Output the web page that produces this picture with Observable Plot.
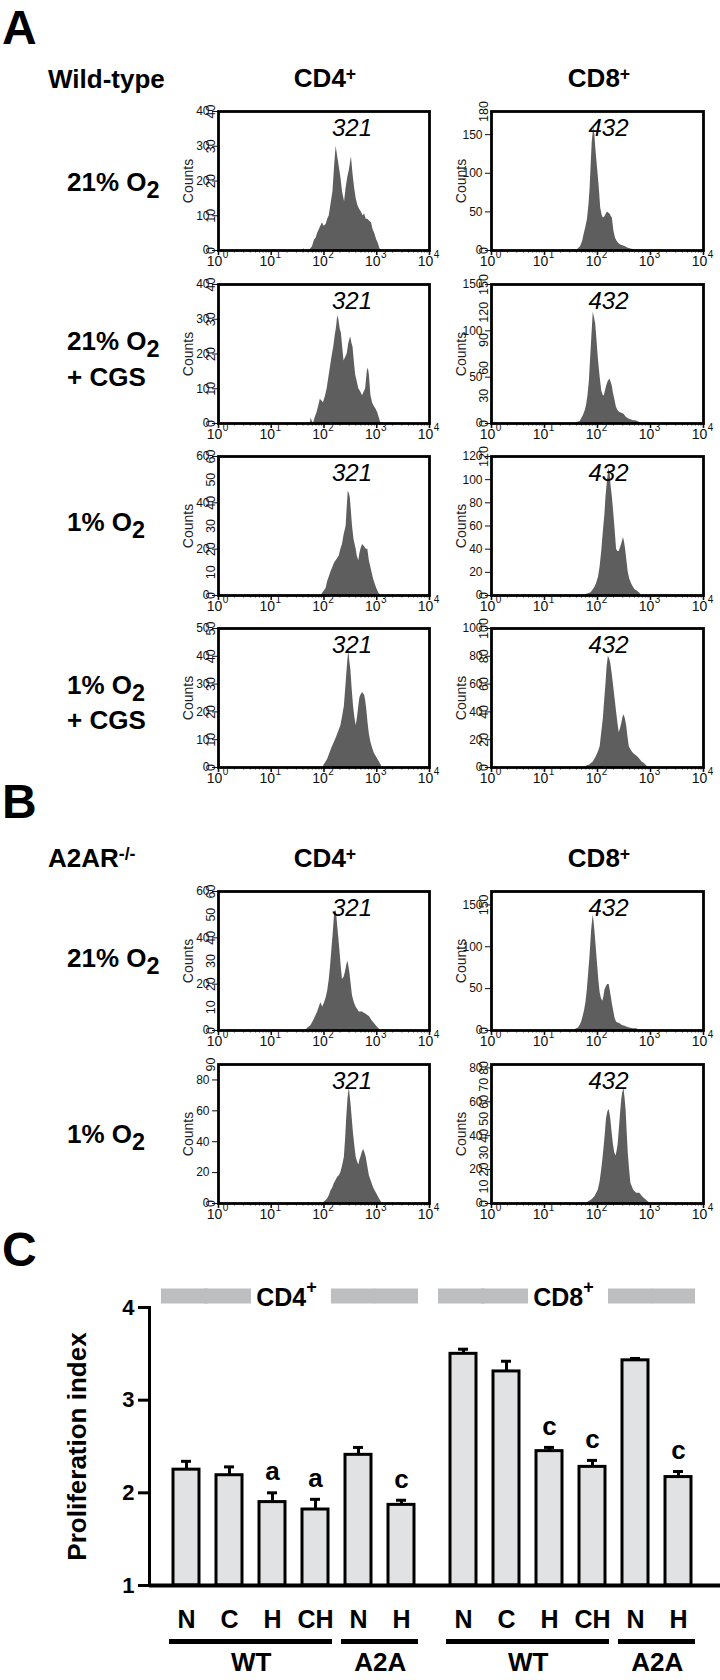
<!DOCTYPE html>
<html><head><meta charset="utf-8">
<script src="https://cdn.jsdelivr.net/npm/d3@7"></script>
<script src="https://cdn.jsdelivr.net/npm/@observablehq/plot@0.6"></script>
<style>
body{margin:0;background:#fff;}
#page{position:relative;width:720px;height:1680px;overflow:hidden;background:#fff;font-family:"Liberation Sans",Arial,Helvetica,sans-serif;color:#000;}
.lbl{position:absolute;line-height:1;white-space:nowrap;font-weight:bold;}
.sub{position:relative;top:0.28em;font-size:0.9em;}
.sup{position:relative;top:-0.42em;font-size:0.68em;}
.pl{position:absolute;}
</style></head><body><div id="page"></div>
<script>
// ---------- Histogram data: [log10(fluorescence), counts] ----------
const wt21_cd4 = [[1.60,0],[1.62,0.5],[1.64,0],[1.72,0],[1.78,1],[1.82,3],[1.85,3.5],[1.88,5],[1.91,6],[1.94,7],[1.97,8],[2.0,7],[2.04,7.5],[2.07,9],[2.10,10],[2.13,13],[2.17,17],[2.20,24],[2.23,30],[2.25,28],[2.26,27],[2.29,24],[2.32,21],[2.35,17],[2.39,14],[2.42,18],[2.45,21],[2.48,23],[2.52,27],[2.55,22],[2.58,18],[2.61,15],[2.64,13],[2.67,12],[2.71,11],[2.74,10],[2.77,10.5],[2.80,9],[2.83,9],[2.86,8.5],[2.90,8],[2.93,6],[2.96,5],[3.00,3],[3.03,2],[3.06,0.5],[3.09,0]];
const wt21_cd8 = [[1.58,0],[1.62,1],[1.68,5],[1.72,12],[1.745,20],[1.78,30],[1.81,40],[1.84,60],[1.86,80],[1.88,110],[1.90,140],[1.93,160],[1.95,150],[1.965,135],[1.99,115],[2.01,100],[2.04,75],[2.06,55],[2.09,45],[2.11,42],[2.13,43],[2.15,45],[2.17,48],[2.19,50],[2.22,48],[2.24,47],[2.26,44],[2.28,42],[2.31,25],[2.34,16],[2.37,12],[2.40,9],[2.44,7],[2.48,6],[2.53,5],[2.58,3],[2.63,2],[2.69,1],[2.75,0]];
const wt21cgs_cd4 = [[1.74,0],[1.757,1.5],[1.78,0.5],[1.80,0],[1.84,2],[1.866,3],[1.90,5],[1.93,7],[1.96,6.5],[1.99,6],[2.03,8],[2.06,10],[2.09,13],[2.12,16],[2.15,19],[2.185,22],[2.21,25],[2.24,28],[2.26,31],[2.28,30],[2.31,27],[2.33,26],[2.36,21],[2.38,18],[2.41,19],[2.44,20],[2.47,23],[2.505,25],[2.53,23],[2.55,22],[2.58,17],[2.60,14],[2.63,12],[2.66,10],[2.70,9],[2.73,8],[2.76,9],[2.79,10],[2.82,15],[2.84,16],[2.86,14],[2.89,8],[2.92,6],[2.95,5],[2.99,4],[3.02,3],[3.05,1.5],[3.08,0]];
const wt21cgs_cd8 = [[1.58,0],[1.606,1],[1.67,2],[1.73,8],[1.77,14],[1.795,20],[1.82,30],[1.846,45],[1.87,70],[1.89,90],[1.92,120],[1.94,115],[1.965,108],[1.99,90],[2.016,70],[2.05,50],[2.08,35],[2.11,30],[2.13,30],[2.15,35],[2.17,40],[2.20,45],[2.236,48],[2.26,44],[2.28,40],[2.30,33],[2.33,25],[2.355,18],[2.375,15],[2.40,13],[2.425,12],[2.46,11],[2.50,10],[2.54,7],[2.58,5],[2.63,4],[2.68,3],[2.72,3],[2.77,2],[2.80,1],[2.83,0]];
const wt1_cd4 = [[1.95,0],[1.975,1],[2.01,2],[2.04,3],[2.07,6],[2.10,8],[2.13,10],[2.165,12],[2.20,14],[2.23,15],[2.26,16],[2.29,17],[2.32,20],[2.35,22],[2.38,26],[2.42,30],[2.44,38],[2.46,45],[2.48,44],[2.50,42],[2.52,36],[2.54,30],[2.57,24],[2.61,20],[2.63,17],[2.66,15],[2.68,18],[2.70,20],[2.73,22],[2.77,21],[2.80,20],[2.83,20],[2.86,15],[2.89,12],[2.91,10],[2.94,7],[2.97,5],[3.00,3],[3.04,1],[3.08,0]];
const wt1_cd8 = [[1.78,0],[1.795,1],[1.83,1.5],[1.86,2],[1.89,3],[1.92,5],[1.95,7],[1.98,10],[2.02,16],[2.05,25],[2.08,38],[2.11,55],[2.14,70],[2.16,85],[2.19,100],[2.22,110],[2.24,104],[2.255,95],[2.28,85],[2.30,75],[2.33,58],[2.36,40],[2.385,38],[2.41,38],[2.44,42],[2.46,45],[2.49,50],[2.51,46],[2.53,40],[2.555,30],[2.58,20],[2.61,14],[2.645,10],[2.68,7],[2.71,5],[2.74,4],[2.77,3],[2.80,2],[2.83,0]];
const wt1cgs_cd4 = [[1.98,0],[2.006,1],[2.04,2],[2.07,3],[2.10,4.5],[2.13,6],[2.16,7.5],[2.196,9],[2.23,10.5],[2.26,12],[2.29,13.5],[2.32,15],[2.35,18],[2.386,22],[2.41,28],[2.43,33],[2.45,38],[2.47,42],[2.49,38],[2.51,35],[2.535,28],[2.56,22],[2.585,18],[2.61,15],[2.635,18],[2.66,22],[2.68,25],[2.70,26],[2.73,27],[2.77,26],[2.79,24],[2.81,21],[2.835,16],[2.86,12],[2.89,9],[2.92,7],[2.955,5],[2.99,4],[3.02,3],[3.05,2],[3.08,1],[3.10,0]];
const wt1cgs_cd8 = [[1.78,0],[1.795,1],[1.83,1.5],[1.86,2],[1.89,3],[1.92,4],[1.95,6],[1.98,8],[2.015,11],[2.05,15],[2.08,25],[2.11,35],[2.135,48],[2.16,60],[2.18,72],[2.205,80],[2.23,78],[2.25,75],[2.275,68],[2.30,60],[2.33,50],[2.36,40],[2.385,32],[2.41,25],[2.435,28],[2.46,32],[2.48,36],[2.50,38],[2.525,35],[2.55,30],[2.575,22],[2.60,15],[2.64,12],[2.68,10],[2.715,9],[2.75,8],[2.775,7],[2.80,6],[2.84,4],[2.88,3],[2.92,1.5],[2.96,0]];
const ko21_cd4 = [[1.66,0],[1.69,1],[1.72,1.5],[1.75,2],[1.785,3.5],[1.82,5],[1.85,6.5],[1.88,8],[1.91,10],[1.94,12],[1.96,11],[1.975,10],[2.01,12],[2.04,14],[2.07,17],[2.10,22],[2.125,28],[2.15,35],[2.175,42],[2.20,50],[2.23,52],[2.245,49],[2.26,45],[2.28,40],[2.30,35],[2.325,28],[2.35,22],[2.38,23],[2.405,25],[2.43,28],[2.45,30],[2.47,28],[2.49,25],[2.515,20],[2.54,15],[2.575,12],[2.61,10],[2.64,9],[2.67,8],[2.70,8],[2.73,8],[2.765,7.5],[2.80,7],[2.83,6.5],[2.86,6],[2.89,5],[2.92,4],[2.955,3],[2.99,2],[3.03,1],[3.08,0]];
const ko21_cd8 = [[1.55,0],[1.575,1],[1.61,2],[1.64,3],[1.67,6],[1.70,10],[1.73,17],[1.76,25],[1.785,35],[1.81,50],[1.835,70],[1.86,90],[1.875,105],[1.89,120],[1.905,130],[1.92,138],[1.935,130],[1.95,120],[1.975,100],[2.00,80],[2.025,60],[2.05,45],[2.075,38],[2.10,35],[2.12,40],[2.14,48],[2.165,52],[2.19,55],[2.22,55],[2.24,48],[2.26,40],[2.28,32],[2.30,25],[2.33,15],[2.36,10],[2.39,9],[2.425,8],[2.47,6],[2.52,5],[2.565,4],[2.61,3],[2.675,2],[2.74,2],[2.77,1],[2.80,0]];
const ko1_cd4 = [[1.98,0],[2.006,1],[2.04,2],[2.07,3],[2.10,5],[2.13,8],[2.165,10],[2.196,13],[2.23,15],[2.26,17],[2.29,18],[2.32,20],[2.35,24],[2.386,30],[2.41,42],[2.43,55],[2.455,68],[2.48,75],[2.495,70],[2.51,65],[2.535,55],[2.56,45],[2.585,37],[2.61,30],[2.635,27],[2.66,25],[2.68,28],[2.70,30],[2.725,33],[2.75,35],[2.775,33],[2.80,30],[2.83,24],[2.86,18],[2.89,15],[2.92,12],[2.955,9],[2.99,7],[3.02,5],[3.05,3],[3.08,1.5],[3.10,0]];
const ko1_cd8 = [[1.80,0],[1.83,1],[1.86,1.5],[1.89,2],[1.92,3],[1.95,4],[1.985,6],[2.016,8],[2.05,13],[2.08,20],[2.105,27],[2.13,35],[2.15,42],[2.17,50],[2.195,54],[2.22,55.5],[2.235,53],[2.25,50],[2.275,42],[2.30,35],[2.325,30],[2.35,28],[2.37,31],[2.39,35],[2.415,45],[2.44,55],[2.46,62],[2.475,65],[2.50,68],[2.52,62],[2.54,55],[2.56,42],[2.58,30],[2.605,20],[2.63,12],[2.655,10],[2.68,8],[2.71,7],[2.74,6],[2.77,6],[2.80,6],[2.825,5],[2.85,4],[2.885,3],[2.92,2],[2.955,1],[2.99,0]];

// axis definitions
const decadeExps = [0, 1, 2, 3, 4];
const countMaxCD4 = [40, 40, 60, 50, 60, 90];
const countMaxCD8 = [180, 150, 120, 100, 166, 82];
const countTicksCD4 = [[0,10,20,30,40],[0,10,20,30,40],[0,10,20,30,40,50,60],[0,10,20,30,40,50],[0,10,20,30,40,50,60],[0,90]];
const countTicksCD8 = [[0,180],[0,30,60,90,120,150],[0,120],[0,20,40,60,80,100],[0,150],[0,10,20,30,40,50,60,70,80]];
const cd4Sets = [wt21_cd4, wt21cgs_cd4, wt1_cd4, wt1cgs_cd4, ko21_cd4, ko1_cd4];
const cd8Sets = [wt21_cd8, wt21cgs_cd8, wt1_cd8, wt1cgs_cd8, ko21_cd8, ko1_cd8];
const divisionLabels = ["321", "432"];

// ---------- Bar chart data ----------
const barCategories = ["N", "C", "H", "CH", "N", "H"];
const barGenotypes = ["WT", "WT", "WT", "WT", "A2A", "A2A"];
const cd4Means = [2.25, 2.19, 1.90, 1.82, 2.41, 1.87];
const cd4Errors = [0.09, 0.09, 0.10, 0.11, 0.08, 0.05];
const cd4Letters = ["", "", "a", "a", "", "c"];
const cd8Means = [3.50, 3.31, 2.45, 2.28, 3.43, 2.17];
const cd8Errors = [0.05, 0.11, 0.04, 0.07, 0.02, 0.06];
const cd8Letters = ["", "", "c", "c", "", "c"];
const proliferationTicks = [1, 2, 3, 4];

// ---------- text ----------
const rowLabels = [
  ["21% O<span class=sub>2</span>"],
  ["21% O<span class=sub>2</span>", "+ CGS"],
  ["1% O<span class=sub>2</span>"],
  ["1% O<span class=sub>2</span>", "+ CGS"],
  ["21% O<span class=sub>2</span>"],
  ["1% O<span class=sub>2</span>"]
];

// ---------- layout ----------
const FONT = '"Liberation Sans", Arial, Helvetica, sans-serif';
const page = document.getElementById("page");
const boxTops = [111, 284, 456, 628, 891, 1064];
const boxH = 139;
const colLeft = [218, 491];
const colW = [211, 212];
const labelDx = [28, 11];
const mL = 45, mR = 24, mT = 16, mB = 30;

function place(el, x, y) {
  el.classList.add("pl");
  el.style.left = x + "px";
  el.style.top = y + "px";
  page.appendChild(el);
}
function addLabel(html, x, y, size, center) {
  const d = document.createElement("div");
  d.className = "lbl";
  d.innerHTML = html;
  d.style.fontSize = size + "px";
  d.style.left = x + "px";
  d.style.top = y + "px";
  d.style.transform = `translate(${center ? "-50%" : "0"}, -50%)`;
  page.appendChild(d);
}

function histogram(data, yMax, yTicks, label, col) {
  const decades = decadeExps.map(e => 10 ** e);
  const minors = decadeExps.slice(0, 4).flatMap(e => [2,3,4,5,6,7,8,9].map(m => m * 10 ** e));
  return Plot.plot({
    width: mL + colW[col] + mR, height: mT + boxH + mB,
    marginLeft: mL, marginRight: mR, marginTop: mT, marginBottom: mB,
    style: {fontFamily: FONT, fontSize: "12px", background: "transparent", color: "#111"},
    x: {type: "log", domain: [1, 1e4]},
    y: {domain: [0, yMax]},
    marks: [
      Plot.areaY(data, {x: d => 10 ** d[0], y: d => d[1], fill: "#5e5e5e", curve: "linear"}),
      Plot.axisX(minors, {tickSize: 2.5, tickFormat: () => "", strokeWidth: 1, stroke: "#333"}),
      Plot.axisX(decades, {tickSize: 5, tickFormat: () => "", strokeWidth: 1.6}),
      Plot.frame({stroke: "#000", strokeWidth: 2.8}),
      Plot.text(decades, {x: d => d, text: () => "10", frameAnchor: "bottom", textAnchor: "middle", dx: -4, dy: 11, fontSize: 14, lineAnchor: "middle", fill: "#111"}),
      Plot.text(decadeExps, {x: e => 10 ** e, text: e => String(e), frameAnchor: "bottom", textAnchor: "middle", dx: 7, dy: 4, fontSize: 10, lineAnchor: "middle", fill: "#111"}),
      Plot.text(yTicks, {y: d => d, text: d => String(d), frameAnchor: "left", textAnchor: "middle", dx: -8, rotate: -90, fontSize: 12.5, lineAnchor: "middle", fill: "#111"}),
      Plot.text(["Counts"], {frameAnchor: "left", textAnchor: "middle", dx: -30, rotate: -90, fontSize: 14, lineAnchor: "middle", fill: "#222"}),
      Plot.text([label], {frameAnchor: "top", textAnchor: "middle", dx: labelDx[col], dy: 17, fontSize: 24, fontStyle: "italic", lineAnchor: "middle", fill: "#000"})
    ]
  });
}

for (let r = 0; r < 6; r++) {
  const h4 = histogram(cd4Sets[r], countMaxCD4[r], countTicksCD4[r], divisionLabels[0], 0);
  place(h4, colLeft[0] - mL, boxTops[r] - mT);
  const h8 = histogram(cd8Sets[r], countMaxCD8[r], countTicksCD8[r], divisionLabels[1], 1);
  place(h8, colLeft[1] - mL, boxTops[r] - mT);
}

// Section labels
addLabel("A", 2, 28, 48, false);
addLabel("Wild-type", 48, 79, 26, false);
addLabel("CD4<span class=sup>+</span>", 325, 78, 26, true);
addLabel("CD8<span class=sup>+</span>", 599, 78, 26, true);
addLabel("B", 2, 802, 48, false);
addLabel("A2AR<span class=sup>-/-</span>", 48, 858, 26, false);
addLabel("CD4<span class=sup>+</span>", 325, 858, 26, true);
addLabel("CD8<span class=sup>+</span>", 599, 858, 26, true);
addLabel("C", 2, 1250, 48, false);
const rowLabelY = [[182], [341, 377], [522], [685, 720], [958], [1134]];
rowLabels.forEach((lines, r) => lines.forEach((t, j) => addLabel(t, 67, rowLabelY[r][j], 26, false)));

// ---------- Bar chart ----------
function barPanel(title, means, errors, letters, cfg) {
  const keys = barGenotypes.map((g, i) => `${g}-${barCategories[i]}`);
  const rows = keys.map((key, i) => ({key, mean: means[i], top: means[i] + errors[i], letter: letters[i]}));
  const genos = [...new Set(barGenotypes)];
  const groups = genos.map(g => {
    const ks = keys.filter((k, i) => barGenotypes[i] === g);
    return {name: g, first: ks[0], last: ks[ks.length - 1], mid: ks[ks.length / 2 - 1]};
  });
  const n = keys.length;
  const headerMid = keys[n / 2 - 1];
  const step = (cfg.xRange[1] - cfg.xRange[0]) / n;
  const gray = "#bcbec0";
  const leftPart = rows.slice(0, 2), rightPart = rows.slice(n - 2);
  const marks = [
    Plot.tickY(leftPart, {x: "key", y: () => 4, dy: -11.5, stroke: gray, strokeWidth: 15, insetLeft: -12, insetRight: -9}),
    Plot.tickY(rightPart, {x: "key", y: () => 4, dy: -11.5, stroke: gray, strokeWidth: 15, insetLeft: -14, insetRight: -4}),
    Plot.text([title], {x: () => headerMid, y: () => 4, dx: step / 2 + 12, dy: -10, textAnchor: "end", fontSize: 25, fontWeight: "bold", fill: "black", lineAnchor: "middle"}),
    Plot.text(["+"], {x: () => headerMid, y: () => 4, dx: step / 2 + 12, dy: -20, textAnchor: "start", fontSize: 18, fontWeight: "bold", fill: "black", lineAnchor: "middle"}),
    Plot.barY(rows, {x: "key", y1: () => 1, y2: "mean", fill: "#e1e2e4", stroke: "black", strokeWidth: 3}),
    Plot.ruleX(rows, {x: "key", y1: "mean", y2: "top", stroke: "black", strokeWidth: 3}),
    Plot.tickY(rows, {x: "key", y: "top", stroke: "black", strokeWidth: 3, insetLeft: 8, insetRight: 8}),
    Plot.text(rows.filter(d => d.letter), {x: "key", y: "top", text: "letter", dy: -21, fontSize: 26, fontWeight: "bold", lineAnchor: "middle"}),
    Plot.ruleY([1], {stroke: "black", strokeWidth: 4}),
    Plot.axisX({tickSize: 0, tickPadding: 25, tickFormat: k => k.split("-")[1], fontSize: 25, fontWeight: "bold", fill: "black"}),
    Plot.ruleY(groups, {x1: "first", x2: "last", y: () => 1, dy: 56, stroke: "black", strokeWidth: 5}),
    Plot.tickY(rows, {x: "key", y: () => 1, dy: 56, stroke: "black", strokeWidth: 5, insetLeft: -4, insetRight: -4}),
    Plot.text(groups, {x: "mid", y: () => 1, dx: step / 2, dy: 77, text: "name", fontSize: 26, fontWeight: "bold", lineAnchor: "middle"})
  ];
  if (cfg.yAxis) {
    marks.push(
      Plot.axisY(proliferationTicks, {tickSize: 11, tickPadding: 4, tickFormat: d => String(d), fontSize: 22, fontWeight: "bold", strokeWidth: 3, fill: "black"}),
      Plot.frame({anchor: "left", stroke: "black", strokeWidth: 3}),
      Plot.text(["Proliferation index"], {frameAnchor: "left", textAnchor: "middle", dx: -72, rotate: -90, fontSize: 26, fontWeight: "bold", lineAnchor: "middle"})
    );
  }
  return Plot.plot({
    width: cfg.width, height: 410,
    marginLeft: cfg.marginLeft, marginRight: 0, marginTop: 37, marginBottom: 95,
    style: {fontFamily: FONT, background: "transparent", color: "black"},
    x: {type: "band", domain: keys, range: cfg.xRange, paddingInner: 0.4, paddingOuter: 0.2, axis: null},
    y: {domain: [1, 4], axis: null},
    marks
  });
}

const barL = barPanel("CD4", cd4Means, cd4Errors, cd4Letters, {width: 431, marginLeft: 149, xRange: [163.25, 424.25], yAxis: true});
place(barL, 0, 1270);
const barR = barPanel("CD8", cd8Means, cd8Errors, cd8Letters, {width: 289, marginLeft: 0, xRange: [9.25, 269.75], yAxis: false});
place(barR, 431, 1270);
</script></body></html>
